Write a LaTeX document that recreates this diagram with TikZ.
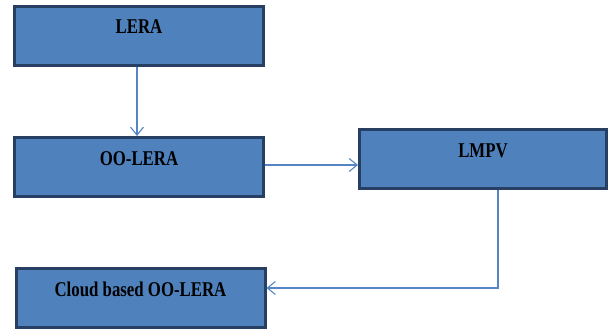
\documentclass[tikz,border=0pt]{standalone}
\usepackage{graphicx}
\usepackage{fontspec}
\setmainfont{Liberation Serif}
\usetikzlibrary{arrows.meta}
\definecolor{boxfill}{HTML}{4F81BD}
\definecolor{boxline}{HTML}{263F63}
\definecolor{connline}{HTML}{5585C4}
\newcommand{\narrow}[1]{\scalebox{0.8}[1]{#1}}
\begin{document}
\begin{tikzpicture}[x=1pt, y=-1pt,
    every node/.style={font=\fontsize{21}{21}\selectfont\bfseries},
    blk/.style={draw=boxline, fill=boxfill, line width=3pt, minimum width=249pt,
      minimum height=59pt, inner sep=0pt, text height=14pt, text depth=18pt},
    conn/.style={draw=connline, line width=1.1pt, -{Straight Barb[length=8pt,width=13pt]}}]
  \useasboundingbox (0,0) rectangle (608,329);
  \node[blk] (lera) at (139,36) {\narrow{LERA}};
  \node[blk] (oolera) at (139,167) {\narrow{OO-LERA}};
  \node[blk, minimum width=247pt] (lmpv) at (483,159) {\narrow{LMPV}};
  \node[blk] (cloud) at (140.5,298) {\narrow{Cloud based OO-LERA}};
  \draw[conn] ([xshift=-2pt]lera.south) -- ([xshift=-2pt]oolera.north);
  \draw[conn] ([yshift=2pt]oolera.east) -- ([yshift=2pt]oolera.east -| lmpv.west);
  \draw[conn] ([xshift=15pt]lmpv.south) |- ([yshift=10pt]cloud.east);
\end{tikzpicture}
\end{document}
